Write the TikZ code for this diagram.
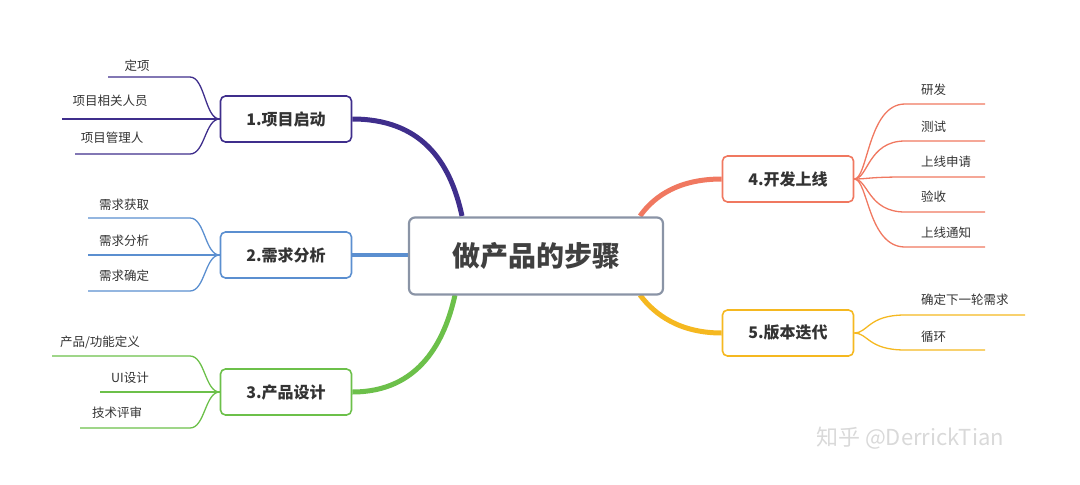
\documentclass[tikz,border=0pt]{standalone}
\usepackage{fontspec}
\setmainfont{Noto Sans CJK SC}
\begin{document}
\begin{tikzpicture}[x=1pt,y=-1pt,
  branch/.style={draw=#1,line width=1.6pt,rounded corners=5pt,minimum width=131pt,minimum height=46pt,font=\fontsize{16}{18}\selectfont\bfseries,text=black!80,fill=white},
  leaf/.style={font=\fontsize{12.5}{14}\selectfont,text=black!80,inner sep=0pt},
  lline/.style={draw=#1,line width=1.3pt}]
\useasboundingbox (0,0) rectangle (1080,485);
\definecolor{cp}{HTML}{3F2E8C}
\definecolor{cb}{HTML}{5B8FD0}
\definecolor{cg}{HTML}{6CC04A}
\definecolor{co}{HTML}{F07860}
\definecolor{cy}{HTML}{F5B820}
\definecolor{cc}{HTML}{8A94A6}
\coordinate (c1) at (462,216);
\coordinate (c3) at (455,295);
\coordinate (c4) at (640,216);
\coordinate (c5) at (640,295);
\node[branch=cp] (b1) at (286,119) {1.项目启动};
\node[branch=cb] (b2) at (286,255) {2.需求分析};
\node[branch=cg] (b3) at (286,392) {3.产品设计};
\node[branch=co] (b4) at (788,179) {4.开发上线};
\node[branch=cy] (b5) at (788,333) {5.版本迭代};
\draw[cp,line width=5pt] (b1.east) .. controls (420,119) and (450,160) .. (c1);
\draw[cb,line width=4pt] (b2.east) -- (408,255);
\draw[cg,line width=5pt] (b3.east) .. controls (420,392) and (445,340) .. (c3);
\draw[co,line width=5pt] (b4.west) .. controls (680,179) and (655,195) .. (c4);
\draw[cy,line width=5pt] (b5.west) .. controls (680,333) and (655,315) .. (c5);
\node[draw=cc,line width=2.2pt,rounded corners=6pt,fill=white,minimum width=254pt,minimum height=77pt,font=\fontsize{28}{32}\selectfont\bfseries,text=black!75] (c) at (536,256) {做产品的步骤};
% group 1
\node[leaf] (l11) at (137,66) {定项};
\node[leaf] (l12) at (110,101) {项目相关人员};
\node[leaf] (l13) at (112,138) {项目管理人};
\draw[lline=cp] (b1.west) .. controls (205,119) and (205,77) .. (190,77) -- (108,77);
\draw[lline=cp] (b1.west) -- (62,119);
\draw[lline=cp] (b1.west) .. controls (205,119) and (205,154) .. (190,154) -- (75,154);
% group 2
\node[leaf] (l21) at (124,205) {需求获取};
\node[leaf] (l22) at (124,241) {需求分析};
\node[leaf] (l23) at (124,276) {需求确定};
\draw[lline=cb] (b2.west) .. controls (205,255) and (205,218) .. (190,218) -- (88,218);
\draw[lline=cb] (b2.west) -- (88,255);
\draw[lline=cb] (b2.west) .. controls (205,255) and (205,291) .. (190,291) -- (88,291);
% group 3
\node[leaf] (l31) at (100,342) {产品/功能定义};
\node[leaf] (l32) at (130,378) {UI设计};
\node[leaf] (l33) at (117,413) {技术评审};
\draw[lline=cg] (b3.west) .. controls (205,392) and (205,356) .. (190,356) -- (52,356);
\draw[lline=cg] (b3.west) -- (100,392);
\draw[lline=cg] (b3.west) .. controls (205,392) and (205,428) .. (190,428) -- (80,428);
% group 4
\node[leaf,anchor=west] (l41) at (921,90) {研发};
\node[leaf,anchor=west] (l42) at (921,127) {测试};
\node[leaf,anchor=west] (l43) at (921,162) {上线申请};
\node[leaf,anchor=west] (l44) at (921,197) {验收};
\node[leaf,anchor=west] (l45) at (921,233) {上线通知};
\draw[lline=co] (b4.east) .. controls (868,179) and (868,104) .. (905,104) -- (985,104);
\draw[lline=co] (b4.east) .. controls (868,179) and (868,141) .. (905,141) -- (985,141);
\draw[lline=co] (b4.east) .. controls (868,179) and (868,177) .. (905,177) -- (985,177);
\draw[lline=co] (b4.east) .. controls (868,179) and (868,212) .. (905,212) -- (985,212);
\draw[lline=co] (b4.east) .. controls (868,179) and (868,247) .. (905,247) -- (985,247);
% group 5
\node[leaf,anchor=west] (l51) at (921,300) {确定下一轮需求};
\node[leaf,anchor=west] (l52) at (921,337) {循环};
\draw[lline=cy] (b5.east) .. controls (868,333) and (868,315) .. (905,315) -- (1025,315);
\draw[lline=cy] (b5.east) .. controls (868,333) and (868,350) .. (905,350) -- (985,350);
\node[font=\fontsize{22}{26}\selectfont,text=black!15] (wm) at (910,438) {知乎 @DerrickTian};
\end{tikzpicture}
\end{document}
